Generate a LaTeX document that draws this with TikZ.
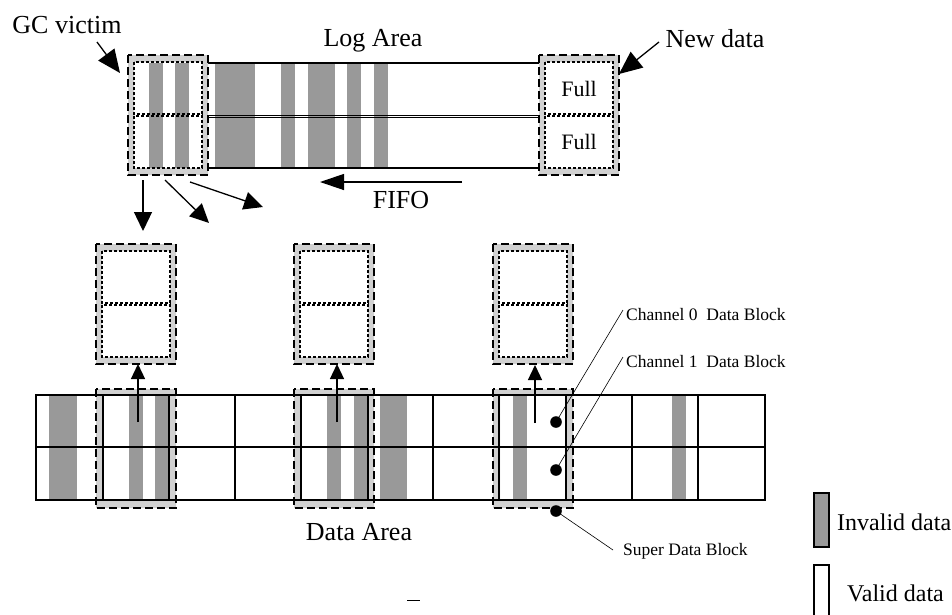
\documentclass[tikz,border=0pt]{standalone}
\usepackage{fontspec}
\setmainfont{Liberation Serif}
\usetikzlibrary{arrows.meta}
\definecolor{stripe}{gray}{0.6}
\definecolor{band}{gray}{0.82}
\begin{document}
\begin{tikzpicture}[x=1pt,y=-1pt,
  big/.style={font=\fontsize{26}{30}\selectfont, inner sep=0pt},
  mid/.style={font=\fontsize{22}{26}\selectfont, inner sep=0pt},
  leg/.style={font=\fontsize{24}{28}\selectfont, inner sep=0pt, anchor=west},
  small/.style={font=\fontsize{17.5}{21}\selectfont, inner sep=0pt, anchor=west},
  arr/.style={line width=1.3pt, -{Triangle[length=19pt,width=18pt]}},
  bigarr/.style={line width=1.3pt, -{Triangle[length=23pt,width=20pt]}},
  uparr/.style={line width=1.3pt, -{Triangle[length=15pt,width=14pt]}},
  outerdash/.style={line width=1.2pt, dash pattern=on 8pt off 4pt},
  innerdot/.style={line width=1.8pt, dash pattern=on 3pt off 2pt},
  leader/.style={line width=0.6pt},
  grid/.style={line width=1.4pt},
  sbk/.pic={
    \fill[band, even odd rule] (-40,-60) rectangle (40,60) (-34,-53) rectangle (34,53);
    \draw[outerdash] (-40,-60) rectangle (40,60);
    \draw[innerdot] (-34,-53) rectangle (34,-1);
    \draw[innerdot] (-34,1) rectangle (34,53);
  }
]
\useasboundingbox (0,0) rectangle (952,614);

% ---------------- Log area ----------------
\foreach \a/\b in {149/163,175/189,215/255,281/295,308/335,347/361,374/388}
  \fill[stripe] (\a,63) rectangle (\b,168);
\draw[line width=1.1pt] (208,63) -- (539,63);
\draw[line width=1.1pt] (208,168) -- (539,168);
\draw[line width=0.9pt] (203,115) -- (545,115);
\draw[line width=0.9pt] (203,117.5) -- (545,117.5);
\pic at (168,115) {sbk};
\pic at (579,115) {sbk};
\node[mid] (full1) at (579,89) {Full};
\node[mid] (full2) at (579,142) {Full};

\node[big] (logarea) at (373,41) {Log Area};
\node[big] (gcv) at (67,25) {GC victim};
\node[big] (newdata) at (715,39) {New data};
\coordinate (gcs) at (97,42);
\coordinate (gct) at (120,73);
\draw[bigarr] (gcs) -- (gct);
\coordinate (nds) at (659,42);
\coordinate (ndt) at (619,74);
\draw[bigarr] (nds) -- (ndt);

\coordinate (fifos) at (462,182);
\coordinate (fifot) at (320,182);
\draw[line width=1.3pt, -{Triangle[length=24pt,width=16pt]}] (fifos) -- (fifot);
\node[big] (fifo) at (401,200) {FIFO};

\coordinate (d1s) at (143,180); \coordinate (d1t) at (143,231);
\coordinate (d2s) at (165,180); \coordinate (d2t) at (209,223);
\coordinate (d3s) at (190,182); \coordinate (d3t) at (263,207);
\draw[arr] (d1s) -- (d1t);
\draw[arr] (d2s) -- (d2t);
\draw[arr] (d3s) -- (d3t);

% ---------------- destination super blocks ----------------
\pic at (136,304) {sbk};
\pic at (334,304) {sbk};
\pic at (533,304) {sbk};

% ---------------- Data area ----------------
\foreach \cx in {136,334,533}
  \fill[band, even odd rule] (\cx-40,389) rectangle (\cx+40,508) (\cx-33,395) rectangle (\cx+33,500);
\foreach \a/\b in {49/77,129/143,155/169,327/341,354/368,380/407,513/527,672/686}
  \fill[stripe] (\a,395) rectangle (\b,500);
\draw[grid] (36,395) rectangle (765,500);
\draw[line width=2.4pt] (36,447) -- (765,447);
\foreach \x in {103,169,235,301,368,433,499,566,632,698}
  \draw[grid] (\x,395) -- (\x,500);
\foreach \cx in {136,334,533}
  \draw[outerdash] (\cx-40,389) rectangle (\cx+40,508);

\coordinate (u1s) at (138,422); \coordinate (u1t) at (138,364);
\coordinate (u2s) at (337,422); \coordinate (u2t) at (337,364);
\coordinate (u3s) at (535,423); \coordinate (u3t) at (535,365);
\draw[uparr] (u1s) -- (u1t);
\draw[uparr] (u2s) -- (u2t);
\draw[uparr] (u3s) -- (u3t);

\node[big] (dataarea) at (359,532) {Data Area};
\draw[line width=0.8pt] (407,600) -- (420,600);

% ---------------- labels ----------------
\coordinate (dot0) at (556,422);
\coordinate (dot1) at (556,470);
\coordinate (dot2) at (556,511);
\foreach \d in {dot0,dot1,dot2} \fill (\d) circle[radius=5.8pt];
\node[small] (ch0) at (626,315) {Channel 0~~Data Block};
\node[small] (ch1) at (626,362) {Channel 1~~Data Block};
\node[small] (sdb) at (623,551) {Super Data Block};
\coordinate (l0) at (623,310);
\coordinate (l1) at (623,357);
\coordinate (l2) at (613,550);
\draw[leader] (dot0) -- (l0);
\draw[leader] (dot1) -- (l1);
\draw[leader] (dot2) -- (l2);

% ---------------- legend ----------------
\draw[line width=1.5pt, fill=stripe] (814,493) rectangle (829,547);
\draw[line width=1.5pt, fill=white] (814,565) rectangle (829,625);
\node[leg] (invalid) at (837,522) {Invalid data};
\node[leg] (valid) at (847,593) {Valid data};
\end{tikzpicture}
\end{document}
